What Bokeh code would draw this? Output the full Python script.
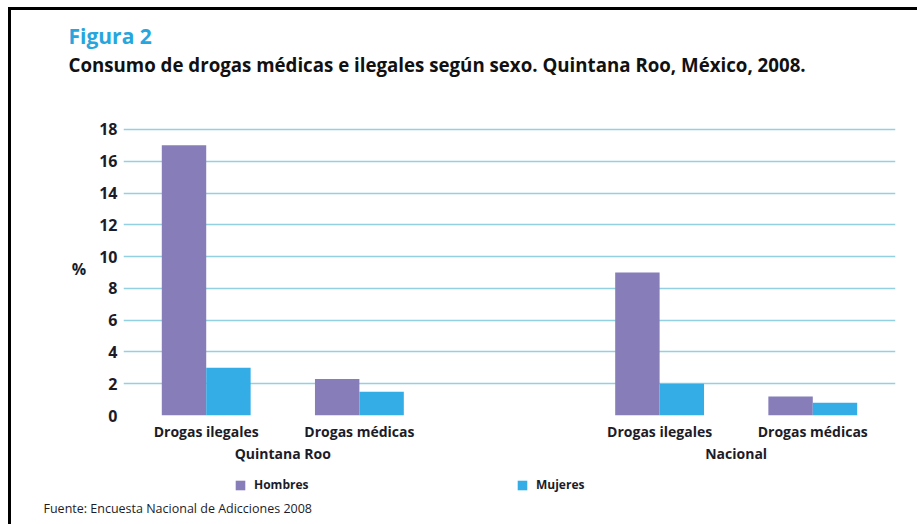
from bokeh.plotting import figure
from bokeh.layouts import column
from bokeh.models import (ColumnDataSource, FactorRange, Range1d, FixedTicker,
                          Legend, LegendItem, Title)
from bokeh.transform import dodge
from bokeh.embed import file_html
from bokeh.resources import INLINE

# ---- data ----
regions = ["Quintana Roo", "Quintana Roo", "Nacional", "Nacional"]
drugs = ["Drogas ilegales", "Drogas médicas", "Drogas ilegales", "Drogas médicas"]
hombres = [17.0, 2.3, 9.0, 1.2]
mujeres = [3.0, 1.5, 2.0, 0.8]
series_names = ["Hombres", "Mujeres"]
y_ticks = [0, 2, 4, 6, 8, 10, 12, 14, 16, 18]

title_text = "Figura 2"
subtitle_text = "Consumo de drogas médicas e ilegales según sexo. Quintana Roo, México, 2008."
footer_text = "Fuente: Encuesta Nacional de Adicciones 2008"

# ---- styles ----
FONT = "Open Sans"
TEXT = "#1c1c28"
C_H = "#877db9"
C_M = "#34ade6"
GRID = "#92d0e2"
W = 906


def bare(h, **kw):
    f = figure(width=W, height=h, output_backend="svg", toolbar_location=None,
               x_axis_location=None, y_axis_location=None,
               min_border_left=112, min_border_right=22, **kw)
    f.outline_line_color = None
    f.xgrid.visible = False
    f.ygrid.visible = False
    return f


# ---- header: title (outermost) and subtitle ----
head = bare(106, min_border_top=66, min_border_bottom=0)
head.title = Title(text=title_text, text_font=FONT, text_font_style="bold",
                   text_font_size="21px", text_color="#27a6de", align="left",
                   offset=-55, standoff=0)
head.add_layout(Title(text=subtitle_text, text_font=FONT, text_font_style="bold",
                      text_font_size="18.7px", text_color="#111111",
                      align="left", offset=-55, standoff=0), "above")

# ---- main chart ----
factors = list(zip(regions, drugs))
src = ColumnDataSource(dict(x=factors, hombres=hombres, mujeres=mujeres))

x_range = FactorRange(*factors, factor_padding=0.0, group_padding=0.96,
                      range_padding=0.04, range_padding_units="absolute")

p = figure(width=W, height=358, x_range=x_range, y_range=Range1d(0, 18.5),
           output_backend="svg", toolbar_location=None,
           min_border_left=112, min_border_right=22, min_border_top=5,
           min_border_bottom=59)
p.outline_line_color = None

bw = 0.29
r_h = p.vbar(x=dodge("x", -bw / 2, range=p.x_range), top="hombres", width=bw,
             source=src, fill_color=C_H, line_color=None)
r_m = p.vbar(x=dodge("x", bw / 2, range=p.x_range), top="mujeres", width=bw,
             source=src, fill_color=C_M, line_color=None)

p.yaxis.ticker = FixedTicker(ticks=y_ticks)
p.ygrid.ticker = FixedTicker(ticks=y_ticks)
p.yaxis.axis_line_color = None
p.yaxis.major_tick_line_color = None
p.yaxis.minor_tick_line_color = None
p.yaxis.major_label_text_font = FONT
p.yaxis.major_label_text_font_style = "bold"
p.yaxis.major_label_text_font_size = "16px"
p.yaxis.major_label_text_color = TEXT
p.yaxis.major_label_standoff = 0
p.yaxis.axis_label = "%"
p.yaxis.axis_label_orientation = "horizontal"
p.yaxis.axis_label_text_font = FONT
p.yaxis.axis_label_text_font_style = "bold"
p.yaxis.axis_label_text_font_size = "16px"
p.yaxis.axis_label_text_color = TEXT
p.yaxis.axis_label_standoff = 10

p.xaxis.axis_line_color = None
p.xaxis.major_tick_line_color = None
p.xaxis.minor_tick_line_color = None
p.xaxis.separator_line_color = None
p.xaxis.major_label_text_font = FONT
p.xaxis.major_label_text_font_style = "bold"
p.xaxis.major_label_text_font_size = "14px"
p.xaxis.major_label_text_color = TEXT
p.xaxis.major_label_standoff = 0
p.xaxis.group_text_font = FONT
p.xaxis.group_text_font_style = "bold"
p.xaxis.group_text_font_size = "14px"
p.xaxis.group_text_color = TEXT

p.xgrid.grid_line_color = None
p.ygrid.grid_line_color = GRID
p.ygrid.grid_line_width = 1.3

# ---- legend + source ----
foot = bare(50, min_border_top=0, min_border_bottom=27)
# zero-size key holders so the legend can show the two series colours
k_h = foot.vbar(x=[0], top=[0], width=0, fill_color=C_H, line_color=None)
k_m = foot.vbar(x=[0], top=[0], width=0, fill_color=C_M, line_color=None)
legend = Legend(items=[LegendItem(label=series_names[0], renderers=[k_h]),
                       LegendItem(label=series_names[1], renderers=[k_m])],
                orientation="horizontal", location=(111, 4), spacing=0,
                label_width=262, glyph_width=12, glyph_height=12,
                label_standoff=8, label_text_font=FONT,
                label_text_font_style="bold", label_text_font_size="12px",
                label_text_color=TEXT, border_line_color=None,
                background_fill_alpha=0, padding=2, margin=0)
foot.add_layout(legend, "center")
foot.add_layout(Title(text=footer_text, text_font=FONT, text_font_style="normal",
                      text_font_size="12.5px", text_color=TEXT, align="left",
                      offset=-80, standoff=0), "below")

page = column(head, p, foot, spacing=0)
page.styles = {"margin-top": "7px", "margin-left": "8px",
               "border-top": "3px solid black", "border-left": "3px solid black"}

open("out.html", "w").write(file_html(page, INLINE))
